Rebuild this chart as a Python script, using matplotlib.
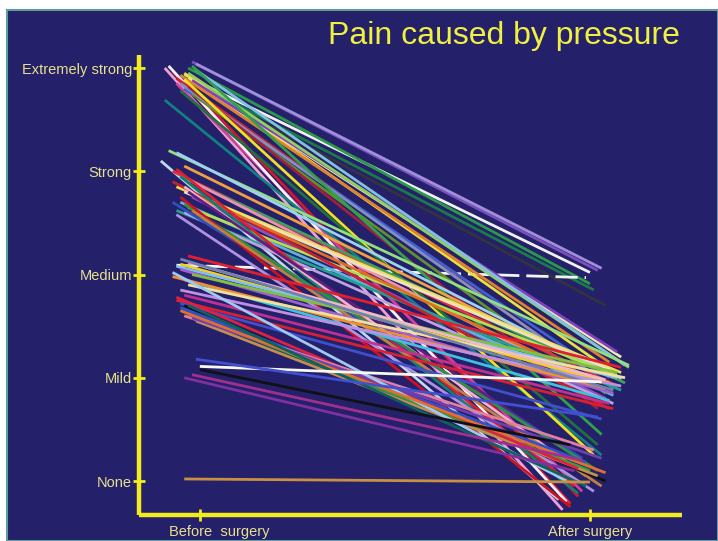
import matplotlib

matplotlib.use("Agg")
import matplotlib.pyplot as plt
from matplotlib.patches import Rectangle
from matplotlib.transforms import ScaledTranslation

# pain scale: 0 = None ... 4 = Extremely strong
levels = [0, 1, 2, 3, 4]
level_labels = ["None", "Mild", "Medium", "Strong", "Extremely strong"]
time_labels = ["Before  surgery", "After surgery"]

# one patient per entry: position on x (0 = before, 1 = after, with jitter) and score
start_x = [
    -0.02, -0.04, -0.03, -0.05, -0.03, -0.01,  # ext. strong -> medium
    -0.06,  # medium -> medium (dashed)
    -0.09, -0.07, -0.05, -0.10, -0.06, -0.08,  # steep -> none
    -0.04, -0.03, -0.02, -0.05, -0.03, -0.06, -0.09, -0.04, -0.02, -0.05, -0.01,
    -0.03, -0.04, -0.02, -0.05,  # ext. strong -> mild
    -0.08, -0.06, -0.04, -0.07, -0.05, -0.03, -0.06, -0.04, -0.02, -0.05, -0.03,
    -0.06, -0.04, -0.07, -0.02,  # strong -> mild
    -0.06, -0.05, -0.04, -0.03, -0.07, -0.04, -0.05, -0.02, -0.06,  # strong -> none
    -0.03, -0.05, -0.06, -0.05, -0.04, -0.07, -0.05, -0.06, -0.05, -0.03, -0.02,
    -0.04, -0.03, -0.05,  # medium -> mild
    -0.04, -0.03, -0.01, -0.05, -0.06, -0.04, -0.02, -0.07, -0.05, -0.03,  # medium -> none
    0.00, -0.01, 0.00, -0.02, -0.04,  # mild
    -0.04,  # none
]
start_score = [
    4.06, 3.93, 4.00, 3.93, 3.86, 4.04,
    2.09,
    4.00, 3.97, 3.92, 3.10, 3.85, 4.02,
    3.95, 3.90, 3.88, 3.93, 3.95, 3.90, 3.69, 3.80, 3.75, 3.85, 3.98,
    3.82, 3.89, 4.02, 3.78,
    3.20, 3.18, 3.05, 3.00, 2.95, 2.92, 2.85, 2.80, 2.75, 2.70, 2.65,
    2.62, 2.60, 2.90, 2.78,
    3.02, 2.95, 2.85, 2.80, 2.70, 2.68, 2.75, 2.62, 2.58,
    2.18, 2.10, 2.08, 2.05, 1.95, 1.98, 1.85, 1.75, 1.72, 1.90, 2.00,
    1.80, 2.12, 2.15,
    1.70, 1.62, 1.55, 1.68, 1.78, 1.60, 1.58, 2.02, 1.65, 1.70,
    1.11, 1.18, 1.08, 1.03, 1.00,
    0.02,
]
end_x = [
    1.02, 1.00, 1.00, 1.01, 1.04, 1.03,
    0.99,
    0.93, 0.95, 0.97, 0.92, 0.98, 0.94,
    1.06, 1.08, 1.07, 1.05, 1.10, 1.04, 1.03, 1.05, 1.04, 1.06, 1.09,
    1.02, 1.01, 1.03, 1.02,
    1.10, 1.08, 1.06, 1.07, 1.09, 1.05, 1.08, 1.05, 1.04, 1.06, 1.07,
    1.08, 1.06, 1.05, 1.03,
    0.96, 0.97, 0.99, 1.00, 0.98, 1.02, 0.95, 1.03, 1.01,
    1.08, 1.05, 1.07, 1.06, 1.05, 1.04, 1.08, 1.06, 1.03, 1.09, 1.07,
    1.05, 1.04, 1.06,
    1.04, 1.00, 1.02, 0.99, 0.97, 1.01, 1.03, 0.94, 1.04, 0.99,
    1.03, 1.02, 0.95, 0.98, 0.96,
    1.00,
]
end_score = [
    2.04, 2.02, 1.91, 1.85, 1.70, 2.06,
    1.97,
    -0.28, -0.22, -0.15, -0.18, -0.10, -0.20,
    1.05, 1.20, 1.25, 1.15, 1.10, 0.95, 0.25, 1.00, 0.85, 0.90, 1.12,
    0.70, 0.25, 0.45, 0.35,
    1.12, 0.98, 1.00, 0.92, 0.95, 0.85, 1.05, 1.08, 0.80, 0.83, 1.02,
    0.88, 0.75, 0.70, 0.95,
    -0.05, -0.12, 0.05, 0.15, 0.22, 0.10, -0.25, -0.05, -0.10,
    1.10, 0.95, 1.00, 0.85, 0.78, 0.90, 0.92, 0.70, 0.60, 1.00, 1.05,
    0.75, 0.98, 0.88,
    0.00, 0.10, 0.05, 0.18, 0.12, 0.30, 0.22, 0.00, 0.08, -0.05,
    0.96, 0.62, 0.35, 0.20, 0.10,
    -0.01,
]
line_colors = [
    "#7b4fc0", "#f0f0f0", "#2a9a4a", "#1a7a4a", "#333340", "#a090d8",
    "#f4f4f4",
    "#f0a0d0", "#e02030", "#d01830", "#c0d8f0", "#d040a0", "#f8f0f8",
    "#e8e040", "#f0e8b0", "#8040c0", "#e08030", "#90d060", "#d02030", "#108080",
    "#4060d0", "#609030", "#8090c0", "#80c0e0", "#a02040", "#f0e020", "#30a050",
    "#207040",
    "#90e080", "#a0d0f0", "#f0a040", "#e03040", "#40a060", "#f090b0", "#f0e050",
    "#f0e0c0", "#9050c0", "#60b0e0", "#b0e050", "#20a090", "#c0a0e0", "#c82030",
    "#e07020",
    "#e02030", "#108070", "#f0b0d0", "#602080", "#3050c0", "#309040", "#d01020",
    "#c08040", "#b090e0",
    "#e02030", "#f0d020", "#80c0f0", "#a060d0", "#40c0e0", "#f09030", "#c090e0",
    "#d82030", "#4050c8", "#f0e0a0", "#80c040", "#c03090", "#f0b8c8", "#7080b0",
    "#101018", "#30a040", "#c09050", "#3050d0", "#e02040", "#e080a0", "#7040b0",
    "#a0c8f0", "#e07030", "#106060",
    "#f8f8f0", "#4050d0", "#101018", "#a03090", "#8030a0",
    "#c89040",
]
dashed_lines = [6]

navy = "#24206a"
axis_yellow = "#f2ec1c"
label_yellow = "#e8e28c"

fig = plt.figure(figsize=(7.18, 5.41), dpi=100, facecolor="white")
fig.patches.append(Rectangle((7 / 718, 0), 1 - 7 / 718, 531 / 541, transform=fig.transFigure,
                             facecolor=navy, edgecolor="#5f9c9c", linewidth=1.5, zorder=-10))

ax = fig.add_axes([139 / 718, 26 / 541, 543 / 718, 460 / 541])
ax.set_facecolor("none")

for i in range(len(start_x)):
    style = (0, (8, 2.5)) if i in dashed_lines else "-"
    ax.plot([start_x[i], end_x[i]], [start_score[i], end_score[i]], color=line_colors[i],
            linewidth=2.0, linestyle=style, solid_capstyle="butt", zorder=2)

ax.set_xlim(-0.156, 1.236)
ax.set_ylim(-0.329, 4.126)

for side in ["top", "right"]:
    ax.spines[side].set_visible(False)
for side in ["left", "bottom"]:
    ax.spines[side].set_color(axis_yellow)
    ax.spines[side].set_linewidth(3.2)
    ax.spines[side].set_zorder(4)
    ax.spines[side].set_capstyle("butt")

ax.set_yticks(levels)
ax.set_yticklabels(level_labels)
ax.set_xticks([0, 1])
ax.set_xticklabels(time_labels)
ax.tick_params(axis="both", direction="inout", length=8, width=2, color=axis_yellow,
               labelcolor=label_yellow, labelsize=10.5)
ax.tick_params(axis="y", pad=1)
ax.tick_params(axis="x", pad=3)
for lab in ax.get_yticklabels() + ax.get_xticklabels():
    lab.set_family(["Liberation Sans", "DejaVu Sans"])

# the "Before" label sits a little right of its tick
before_lab = ax.get_xticklabels()[0]
before_lab.set_transform(before_lab.get_transform() + ScaledTranslation(0.19, 0, fig.dpi_scale_trans))

fig.text(680 / 718, 1 - 36 / 541, "Pain caused by pressure", color="#f0f040", fontsize=23,
         ha="right", va="center", family=["Liberation Sans", "DejaVu Sans"])

fig.savefig("out.png", dpi=100, facecolor=fig.get_facecolor())
plt.close(fig)
